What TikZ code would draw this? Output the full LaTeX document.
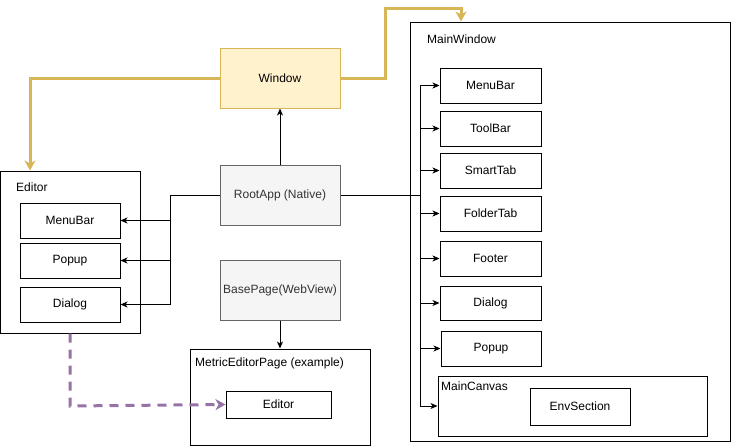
\documentclass[tikz,border=0pt]{standalone}
\usepackage{fontspec}
\setmainfont{Liberation Sans}
\usetikzlibrary{arrows.meta}
\definecolor{goldline}{HTML}{D6B656}
\definecolor{goldfill}{HTML}{FFF2CC}
\definecolor{grayfill}{HTML}{F5F5F5}
\definecolor{grayline}{HTML}{666666}
\definecolor{purpleline}{HTML}{9673A6}
\begin{document}
\begin{tikzpicture}[x=1pt,y=-1pt,
  every node/.style={font=\fontsize{12}{14}\selectfont},
  box/.style={draw=black,line width=1pt,fill=white,inner sep=0pt},
  graybox/.style={draw=grayline,line width=1pt,fill=grayfill,inner sep=0pt,text=black!80,minimum width=120pt,minimum height=60pt},
  goldbox/.style={draw=goldline,line width=1pt,fill=goldfill,inner sep=0pt,minimum width=120pt,minimum height=60pt},
  lbl/.style={anchor=west,inner sep=0pt},
  arr/.style={line width=1pt,-{Stealth[length=7pt,width=6pt,inset=2pt]}},
  plain/.style={line width=1pt},
  goldarr/.style={draw=goldline,line width=3pt,-{Stealth[length=10pt,width=11pt,inset=3pt]}},
  purplearr/.style={draw=purpleline,line width=3pt,dash pattern=on 9pt off 7pt,-{Stealth[length=10pt,width=11pt,inset=3pt]}}
]
\useasboundingbox (0,0) rectangle (731,447);

% containers
\node[box,minimum width=140pt,minimum height=162pt] (ed) at (70,252) {};
\node[lbl] (edl) at (16,187) {Editor};
\node[box,minimum width=320pt,minimum height=419pt] (mw) at (570,231.5) {};
\node[lbl] (mwl) at (427,39) {MainWindow};
\node[box,minimum width=180pt,minimum height=96pt] (mep) at (280,397) {};
\node[lbl] (mepl) at (195,363) {MetricEditorPage (example)};

% editor children
\node[box,minimum width=100pt,minimum height=35pt] (emb) at (70,220.5) {MenuBar};
\node[box,minimum width=100pt,minimum height=35pt] (epu) at (70,260.5) {Popup};
\node[box,minimum width=100pt,minimum height=35pt] (edi) at (70,304.5) {Dialog};

% central nodes
\node[goldbox] (win) at (280,78) {Window};
\node[graybox] (root) at (280,195) {RootApp (Native)};
\node[graybox] (base) at (280,290) {BasePage(WebView)};

% metric editor child
\node[box,minimum width=105pt,minimum height=27pt] (mee) at (278.5,404.5) {Editor};

% main window children
\node[box,minimum width=101pt,minimum height=35pt] (mmb) at (490.5,85.5) {MenuBar};
\node[box,minimum width=101pt,minimum height=35pt] (mtb) at (490.5,128.5) {ToolBar};
\node[box,minimum width=101pt,minimum height=35pt] (mst) at (490.5,170.5) {SmartTab};
\node[box,minimum width=101pt,minimum height=35pt] (mft) at (490.5,213.5) {FolderTab};
\node[box,minimum width=101pt,minimum height=35pt] (mfo) at (490.5,258.5) {Footer};
\node[box,minimum width=101pt,minimum height=34pt] (mdi) at (490.5,303) {Dialog};
\node[box,minimum width=100pt,minimum height=35pt] (mpu) at (491,348.5) {Popup};
\node[box,minimum width=269pt,minimum height=60pt] (mca) at (572.5,406) {};
\node[lbl] (mcal) at (441,386) {MainCanvas};
\node[box,minimum width=100pt,minimum height=37pt] (env) at (580,406.5) {EnvSection};

% connectors
\draw[arr] (root.north) -- (win.south);
\draw[arr] (base.south) -- (mep.north);

\coordinate (spL) at (170,195);
\draw[plain] (root.west) -- (spL);
\draw[arr] (spL) |- (emb.east);
\draw[arr] (spL) |- (epu.east);
\draw[arr] (spL) |- (edi.east);

\coordinate (spR) at (420,195);
\draw[plain] (root.east) -- (spR);
\draw[arr] (spR) |- (mmb.west);
\draw[arr] (spR) |- (mtb.west);
\draw[arr] (spR) |- (mst.west);
\draw[arr] (spR) |- (mft.west);
\draw[arr] (spR) |- (mfo.west);
\draw[arr] (spR) |- (mdi.west);
\draw[arr] (spR) |- (mpu.west);
\draw[arr] (spR) |- (mca.west);

\coordinate (g1) at (385,8);
\coordinate (g2) at (461,8);
\draw[goldarr] (win.east) -| (g1) -- (g2) -- (g2 |- mw.north);
\coordinate (g3) at (30,78);
\draw[goldarr] (win.west) -- (g3) -- (g3 |- ed.north);

\coordinate (p1) at (70,406);
\draw[purplearr] (ed.south -| p1) -- (p1) -- (mee.west);
\end{tikzpicture}
\end{document}
